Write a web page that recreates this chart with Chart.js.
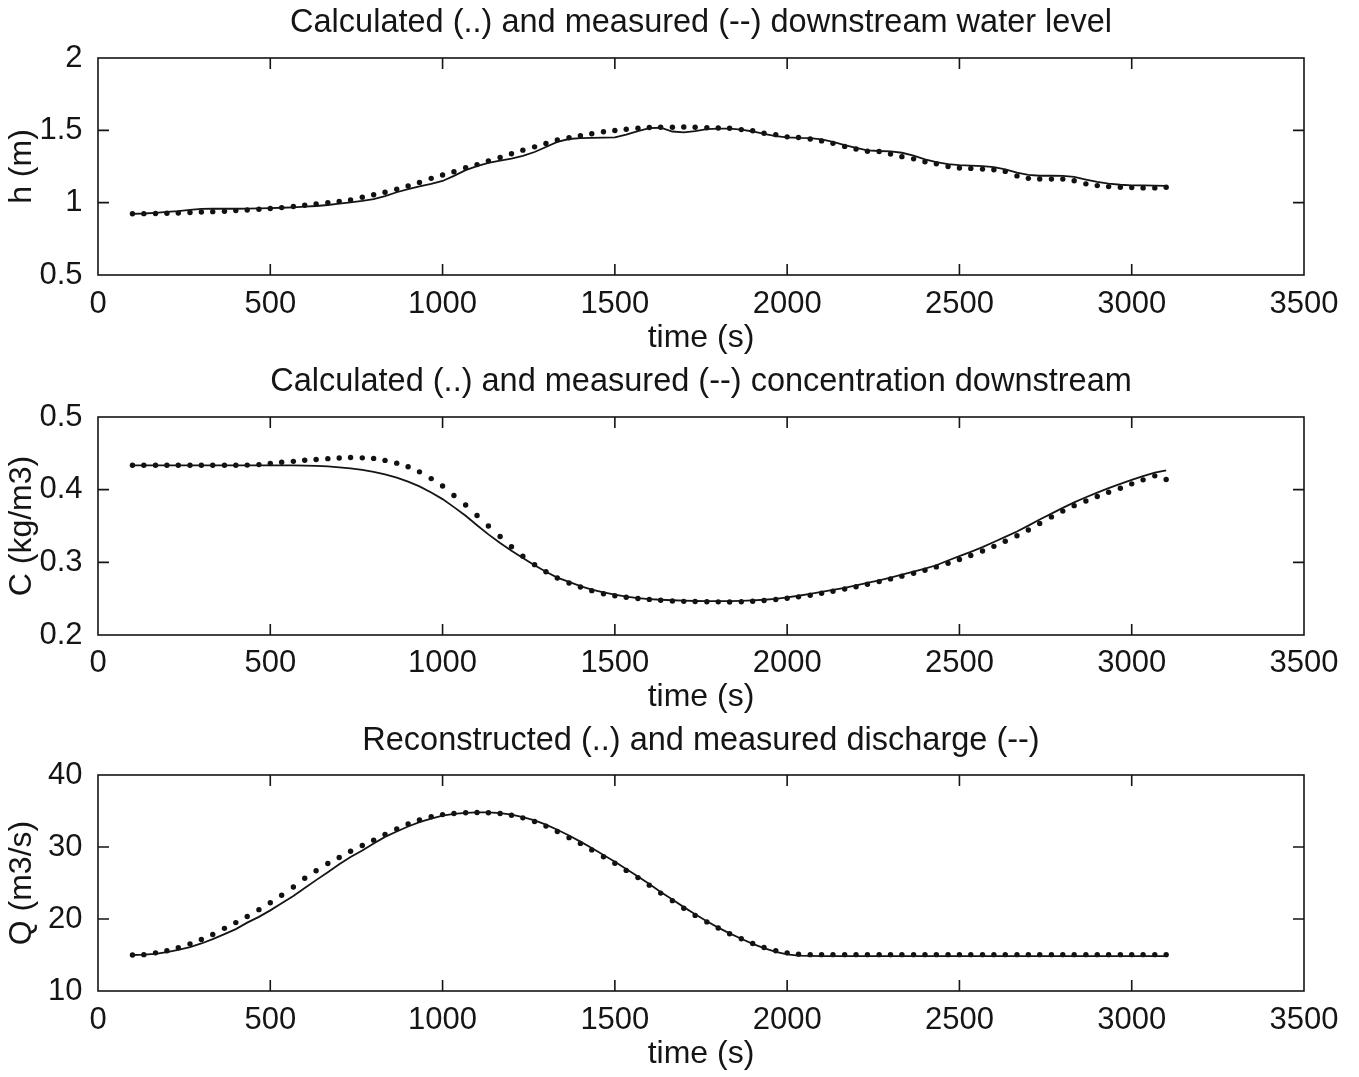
<!DOCTYPE html>
<html>
<head>
<meta charset="utf-8">
<script src="https://cdn.jsdelivr.net/npm/chart.js@4.4.1/dist/chart.umd.min.js"></script>
<style>
  html, body { margin: 0; padding: 0; background: #fff; }
  #wrap { position: relative; width: 1359px; height: 1077px; overflow: hidden; background: #fff; }
  canvas { position: absolute; left: 0; }
</style>
</head>
<body>
<div id="wrap">
  <canvas id="cH" width="1359" height="358" style="top:0;width:1359px;height:358px"></canvas>
  <canvas id="cC" width="1359" height="358" style="top:358px;width:1359px;height:358px"></canvas>
  <canvas id="cQ" width="1359" height="361" style="top:716px;width:1359px;height:361px"></canvas>
</div>
<script>
// Sample times (s)
const times = [100,133,167,200,233,267,300,333,367,400,433,467,500,533,567,600,633,667,700,733,
  767,800,833,867,900,933,967,1000,1033,1067,1100,1133,1167,1200,1233,1267,1300,1333,1367,1400,
  1433,1467,1500,1533,1567,1600,1633,1667,1700,1733,1767,1800,1833,1867,1900,1933,1967,2000,2033,2067,
  2100,2133,2167,2200,2233,2267,2300,2333,2367,2400,2433,2467,2500,2533,2567,2600,2633,2667,2700,2733,
  2767,2800,2833,2867,2900,2933,2967,3000,3033,3067,3100];

// Downstream water level h (m)
const hCalc = [0.923,0.924,0.925,0.927,0.929,0.932,0.935,0.938,0.941,0.945,
  0.949,0.954,0.960,0.966,0.974,0.982,0.991,0.999,1.008,1.019,
  1.037,1.055,1.072,1.093,1.116,1.140,1.168,1.191,1.214,1.241,
  1.263,1.289,1.312,1.338,1.363,1.386,1.409,1.433,1.449,1.463,
  1.476,1.490,1.499,1.508,1.515,1.520,1.521,1.521,1.523,1.521,
  1.518,1.516,1.514,1.505,1.497,1.480,1.470,1.455,1.450,1.440,
  1.427,1.410,1.389,1.371,1.355,1.354,1.336,1.318,1.303,1.283,
  1.269,1.250,1.240,1.237,1.232,1.228,1.216,1.185,1.168,1.164,
  1.163,1.163,1.152,1.130,1.118,1.111,1.107,1.104,1.102,1.102,
  1.107];
const hMeas = [0.923,0.925,0.930,0.936,0.942,0.950,0.957,0.958,0.958,0.958,
  0.959,0.960,0.962,0.965,0.968,0.972,0.977,0.984,0.993,1.002,
  1.012,1.024,1.045,1.072,1.093,1.112,1.130,1.150,1.185,1.225,
  1.252,1.275,1.290,1.305,1.323,1.350,1.385,1.420,1.440,1.446,
  1.448,1.450,1.452,1.470,1.495,1.515,1.518,1.492,1.486,1.494,
  1.508,1.512,1.512,1.505,1.492,1.475,1.460,1.452,1.448,1.446,
  1.438,1.420,1.398,1.378,1.362,1.357,1.354,1.345,1.325,1.300,
  1.280,1.266,1.259,1.256,1.252,1.245,1.230,1.208,1.192,1.186,
  1.186,1.185,1.178,1.160,1.143,1.132,1.124,1.120,1.119,1.118,
  1.116];

// Downstream concentration C (kg/m3)
const cCalc = [0.4335,0.4335,0.4335,0.4335,0.4335,0.4335,0.4335,0.4335,0.4335,0.4335,
  0.4338,0.4345,0.4360,0.4378,0.4390,0.4405,0.4415,0.4427,0.4435,0.4442,
  0.4438,0.4430,0.4403,0.4365,0.4315,0.4245,0.4152,0.4050,0.3920,0.3790,
  0.3645,0.3500,0.3355,0.3215,0.3085,0.2968,0.2870,0.2785,0.2715,0.2660,
  0.2610,0.2568,0.2540,0.2520,0.2503,0.2490,0.2478,0.2468,0.2463,0.2460,
  0.2458,0.2456,0.2455,0.2457,0.2465,0.2475,0.2488,0.2505,0.2525,0.2548,
  0.2575,0.2603,0.2633,0.2665,0.2698,0.2735,0.2772,0.2810,0.2850,0.2892,
  0.2937,0.2987,0.3040,0.3095,0.3155,0.3220,0.3290,0.3365,0.3445,0.3535,
  0.3625,0.3705,0.3780,0.3845,0.3905,0.3965,0.4020,0.4080,0.4135,0.4190,
  0.4140];
const cMeas = [0.4335,0.4335,0.4335,0.4335,0.4335,0.4335,0.4335,0.4335,0.4335,0.4335,
  0.4335,0.4335,0.4335,0.4335,0.4335,0.4332,0.4328,0.4320,0.4308,0.4292,
  0.4272,0.4245,0.4210,0.4165,0.4110,0.4045,0.3960,0.3870,0.3760,0.3640,
  0.3510,0.3385,0.3265,0.3160,0.3060,0.2960,0.2870,0.2790,0.2730,0.2672,
  0.2625,0.2588,0.2555,0.2528,0.2508,0.2495,0.2485,0.2478,0.2472,0.2468,
  0.2465,0.2465,0.2466,0.2470,0.2476,0.2485,0.2496,0.2518,0.2540,0.2565,
  0.2592,0.2620,0.2650,0.2682,0.2716,0.2752,0.2790,0.2830,0.2872,0.2915,
  0.2960,0.3025,0.3085,0.3145,0.3210,0.3280,0.3350,0.3425,0.3505,0.3590,
  0.3670,0.3750,0.3825,0.3895,0.3960,0.4020,0.4080,0.4135,0.4185,0.4235,
  0.4265];

// Discharge Q (m3/s)
const qCalc = [15.0,15.05,15.3,15.6,16.0,16.55,17.15,17.85,18.7,19.5,
  20.35,21.3,22.25,23.3,24.45,25.65,26.7,27.7,28.55,29.4,
  30.2,30.95,31.75,32.5,33.2,33.75,34.2,34.5,34.65,34.75,
  34.8,34.75,34.65,34.4,34.05,33.55,32.9,32.15,31.3,30.5,
  29.6,28.65,27.75,26.75,25.75,24.7,23.6,22.55,21.5,20.5,
  19.6,18.75,17.95,17.25,16.6,16.05,15.6,15.3,15.12,15.05,
  15.05,15.05,15.05,15.05,15.05,15.05,15.05,15.05,15.05,15.05,
  15.05,15.05,15.05,15.05,15.05,15.05,15.05,15.05,15.05,15.05,
  15.05,15.05,15.05,15.05,15.05,15.05,15.05,15.05,15.05,15.05,
  15.05];
const qMeas = [15.0,15.05,15.15,15.4,15.7,16.1,16.6,17.2,17.9,18.6,
  19.5,20.3,21.2,22.2,23.2,24.3,25.4,26.5,27.6,28.6,
  29.5,30.5,31.4,32.15,32.85,33.45,33.95,34.35,34.6,34.75,
  34.8,34.8,34.7,34.5,34.15,33.7,33.1,32.4,31.6,30.75,
  29.85,28.9,27.95,26.95,25.9,24.85,23.75,22.7,21.65,20.65,
  19.7,18.8,18.0,17.25,16.55,15.95,15.45,15.1,14.92,14.87,
  14.85,14.85,14.85,14.85,14.85,14.85,14.85,14.85,14.85,14.85,
  14.85,14.85,14.85,14.85,14.85,14.85,14.85,14.85,14.85,14.85,
  14.85,14.85,14.85,14.85,14.85,14.85,14.85,14.85,14.85,14.85,
  14.85];

// Tick values
const xTicks = [0, 500, 1000, 1500, 2000, 2500, 3000, 3500];
const hTicks = [0.5, 1, 1.5, 2];
const cTicks = [0.2, 0.3, 0.4, 0.5];
const qTicks = [10, 20, 30, 40];

// Panel titles
const titles = [
  'Calculated (..) and measured (--) downstream water level',
  'Calculated (..) and measured (--) concentration downstream',
  'Reconstructed (..) and measured discharge (--)'
];

const FONT = "'Liberation Sans', Arial, Helvetica, sans-serif";
const INK = '#151515';
const W = 1359;
const PLOT_LEFT = 98, PLOT_RIGHT = 1304;
const TITLE_SIZE = 32.5, AXIS_TITLE_SIZE = 32, TICK_SIZE = 31;

// Box outline with inward tick marks on all four sides, plus a title centred over the plot box
const frameTicks = {
  id: 'frameTicks',
  afterDatasetsDraw(chart, args, opts) {
    const { ctx, chartArea: a } = chart;
    const x = chart.scales.x, y = chart.scales.y;
    const L = 11;
    ctx.save();
    ctx.strokeStyle = INK;
    ctx.lineWidth = 1.6;
    ctx.strokeRect(a.left, a.top, a.right - a.left, a.bottom - a.top);
    ctx.beginPath();
    x.ticks.forEach(t => {
      const px = x.getPixelForValue(t.value);
      if (px <= a.left + 1 || px >= a.right - 1) return;
      ctx.moveTo(px, a.bottom); ctx.lineTo(px, a.bottom - L);
      ctx.moveTo(px, a.top); ctx.lineTo(px, a.top + L);
    });
    y.ticks.forEach(t => {
      const py = y.getPixelForValue(t.value);
      if (py <= a.top + 1 || py >= a.bottom - 1) return;
      ctx.moveTo(a.left, py); ctx.lineTo(a.left + L, py);
      ctx.moveTo(a.right, py); ctx.lineTo(a.right - L, py);
    });
    ctx.stroke();
    ctx.fillStyle = INK;
    ctx.font = TITLE_SIZE + 'px ' + FONT;
    ctx.textAlign = 'center';
    ctx.textBaseline = 'middle';
    ctx.fillText(opts.text, (a.left + a.right) / 2, opts.y);
    ctx.restore();
  }
};

function pairs(xs, ys) { return xs.map((t, i) => ({ x: t, y: ys[i] })); }

function buildPanel(id, spec) {
  const b = spec.box;
  const half = AXIS_TITLE_SIZE * 1.2 / 2;
  new Chart(document.getElementById(id), {
    type: 'line',
    data: {
      datasets: [
        { data: pairs(times, spec.meas), borderColor: INK, borderWidth: 1.8,
          pointRadius: 0, fill: false, tension: 0 },
        { data: pairs(times, spec.calc), showLine: false, pointRadius: 2.7,
          pointBackgroundColor: '#111', pointBorderWidth: 0, pointHoverRadius: 0 }
      ]
    },
    options: {
      responsive: false,
      animation: false,
      devicePixelRatio: 1,
      events: [],
      layout: { padding: { left: 0, right: W - PLOT_RIGHT, top: b.top, bottom: 0 } },
      plugins: {
        legend: { display: false },
        tooltip: { enabled: false },
        title: { display: false },
        frameTicks: { text: spec.title, y: b.titleY }
      },
      scales: {
        x: {
          type: 'linear', min: 0, max: 3500,
          grid: { display: false }, border: { display: false },
          afterBuildTicks: s => { s.ticks = xTicks.map(v => ({ value: v })); },
          afterFit: s => { s.height = b.H - b.bottom; },
          ticks: { color: INK, font: { family: FONT, size: TICK_SIZE }, maxRotation: 0,
                   autoSkip: false, padding: b.tickY - b.bottom - TICK_SIZE * 1.2 / 2,
                   callback: v => String(v) },
          title: { display: true, text: 'time (s)', color: INK,
                   font: { family: FONT, size: AXIS_TITLE_SIZE, lineHeight: 1.2 },
                   padding: { top: 0, bottom: b.H - b.xTitleY - half } }
        },
        y: {
          type: 'linear', min: spec.yTicks[0], max: spec.yTicks[spec.yTicks.length - 1],
          grid: { display: false }, border: { display: false },
          afterBuildTicks: s => { s.ticks = spec.yTicks.map(v => ({ value: v })); },
          afterFit: s => { s.width = PLOT_LEFT; },
          ticks: { color: INK, font: { family: FONT, size: TICK_SIZE }, padding: 7.5,
                   callback: v => String(v) },
          title: { display: true, text: spec.yTitle, color: INK,
                   font: { family: FONT, size: AXIS_TITLE_SIZE, lineHeight: 1.2 },
                   padding: { top: 22 - half, bottom: 0 } }
        }
      }
    },
    plugins: [frameTicks]
  });
}

buildPanel('cH', { title: titles[0], yTitle: 'h (m)', yTicks: hTicks, calc: hCalc, meas: hMeas,
  box: { H: 358, titleY: 23, top: 58, bottom: 275, tickY: 296, xTitleY: 338 } });
buildPanel('cC', { title: titles[1], yTitle: 'C (kg/m3)', yTicks: cTicks, calc: cCalc, meas: cMeas,
  box: { H: 358, titleY: 24, top: 59, bottom: 277, tickY: 297, xTitleY: 339 } });
buildPanel('cQ', { title: titles[2], yTitle: 'Q (m3/s)', yTicks: qTicks, calc: qCalc, meas: qMeas,
  box: { H: 361, titleY: 25, top: 59, bottom: 275, tickY: 296, xTitleY: 338 } });
</script>
</body>
</html>
